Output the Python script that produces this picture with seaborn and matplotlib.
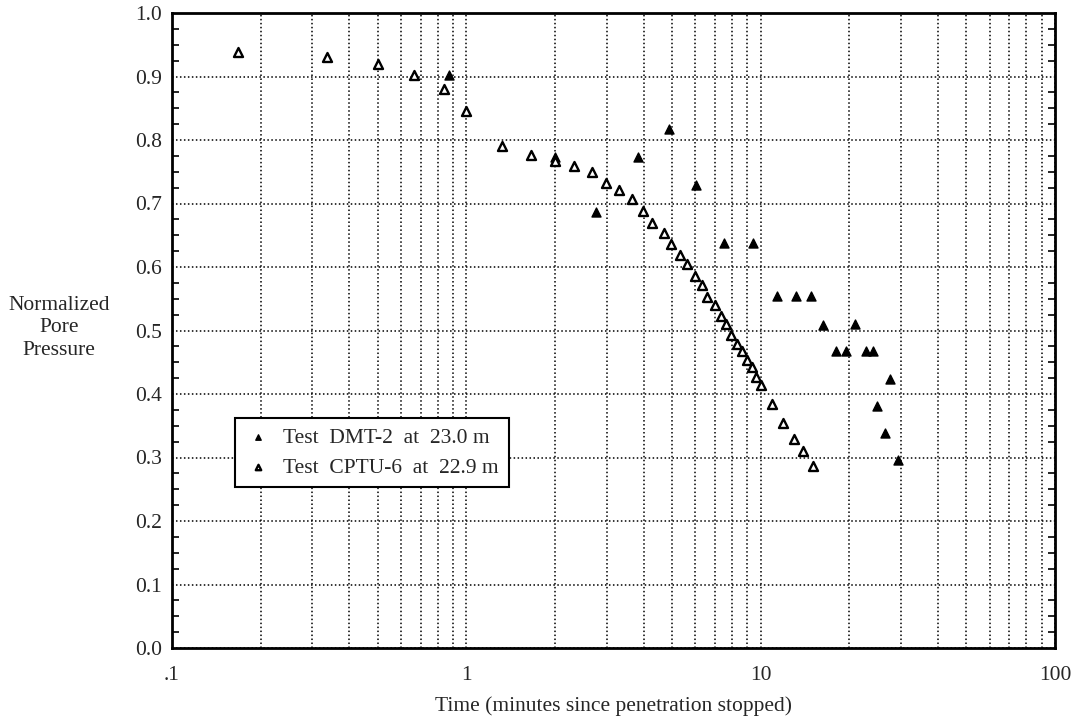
import matplotlib.pyplot as plt
import matplotlib.ticker as mticker
import pandas as pd
import seaborn as sns

# CPTU-6 at 22.9 m (open triangles)
cptu_time = [0.168, 0.336, 0.50, 0.665, 0.837, 1.0, 1.32, 1.66, 2.0, 2.32, 2.68,
             2.99, 3.31, 3.66, 3.99, 4.28, 4.69, 4.94, 5.31, 5.63, 5.96, 6.33,
             6.59, 6.98, 7.31, 7.60, 7.95, 8.29, 8.67, 8.96, 9.32, 9.62, 10.06,
             10.96, 11.95, 12.98, 13.97, 15.06]
cptu_pp = [0.939, 0.931, 0.920, 0.902, 0.880, 0.845, 0.791, 0.776, 0.767, 0.759, 0.750,
           0.732, 0.721, 0.707, 0.688, 0.670, 0.653, 0.636, 0.619, 0.604, 0.586, 0.572,
           0.552, 0.540, 0.523, 0.510, 0.493, 0.478, 0.467, 0.454, 0.442, 0.427, 0.414,
           0.384, 0.355, 0.329, 0.310, 0.287]

# DMT-2 at 23.0 m (filled triangles)
dmt_time = [0.875, 2.0, 2.76, 3.83, 4.88, 6.03, 7.50, 9.44, 11.40, 13.15, 14.79,
            16.34, 18.09, 19.56, 20.9, 22.75, 23.99, 24.9, 26.5, 27.5, 29.2]
dmt_pp = [0.902, 0.774, 0.686, 0.774, 0.817, 0.729, 0.638, 0.638, 0.554, 0.554, 0.554,
          0.509, 0.468, 0.468, 0.510, 0.468, 0.468, 0.381, 0.338, 0.424, 0.296]

x_ticks = [0.1, 1, 10, 100]
x_tick_labels = [".1", "1", "10", "100"]
y_ticks = [0.0, 0.1, 0.2, 0.3, 0.4, 0.5, 0.6, 0.7, 0.8, 0.9, 1.0]
legend_labels = ["Test  DMT-2  at  23.0 m", "Test  CPTU-6  at  22.9 m"]

sns.set_style("white")
plt.rcParams["font.family"] = ["Liberation Serif", "DejaVu Serif"]
fs = 15.5

fig = plt.figure(figsize=(10.71, 7.26), dpi=100)
ax = fig.add_axes([172 / 1071, 1 - 648 / 726, 883 / 1071, 635 / 726])

dmt = pd.DataFrame({"time": dmt_time, "pp": dmt_pp})
cptu = pd.DataFrame({"time": cptu_time, "pp": cptu_pp})

sns.scatterplot(data=dmt, x="time", y="pp", marker="^", s=42, color="black",
                edgecolor="black", linewidth=1.0, ax=ax, label=legend_labels[0], zorder=3)
sns.scatterplot(data=cptu, x="time", y="pp", marker="^", s=42, facecolor="white",
                edgecolor="black", linewidth=1.7, ax=ax, label=legend_labels[1], zorder=3)

ax.set_xscale("log")
ax.set_xlim(0.1, 100)
ax.set_ylim(0, 1.0)

# dotted grid: every decade step in x, every 0.1 in y
dots = (0, (1, 1.6))
ax.xaxis.grid(True, which="both", linestyle=dots, color="black", linewidth=1.1)
ax.yaxis.grid(True, which="major", linestyle=dots, color="black", linewidth=1.1)

ax.set_xticks(x_ticks)
ax.set_xticklabels(x_tick_labels)
ax.xaxis.set_minor_locator(mticker.LogLocator(base=10, subs=range(2, 10)))
ax.xaxis.set_minor_formatter(mticker.NullFormatter())
ax.set_yticks(y_ticks)
ax.set_yticklabels([f"{v:.1f}" for v in y_ticks])
ax.yaxis.set_minor_locator(mticker.MultipleLocator(0.025))

ax.tick_params(axis="x", which="both", length=0, pad=13, labelsize=fs)
ax.tick_params(axis="y", which="major", direction="in", length=0, pad=7,
               labelsize=fs, left=True, right=True)
ax.tick_params(axis="y", which="minor", direction="in", length=5, width=1.2,
               left=True, right=True, color="black")

for sp in ax.spines.values():
    sp.set_visible(True)
    sp.set_color("black")
    sp.set_linewidth(2)

ax.set_xlabel("Time (minutes since penetration stopped)", fontsize=fs, labelpad=8)
ax.set_ylabel("")
fig.text(59 / 1071, 1 - 328 / 726, "Normalized\nPore\nPressure", ha="center",
         va="center", fontsize=fs, linespacing=1.25)

leg = ax.legend(loc="upper left", bbox_to_anchor=((235 - 172) / 883, (648 - 418) / 635),
                borderaxespad=0, frameon=True, fancybox=False, edgecolor="black",
                fontsize=fs, markerscale=0.6, handletextpad=0.6, borderpad=0.45,
                labelspacing=0.45, handlelength=1.2)
leg.get_frame().set_linewidth(1.5)
leg.get_frame().set_alpha(1)

fig.savefig("out.png", dpi=100)
